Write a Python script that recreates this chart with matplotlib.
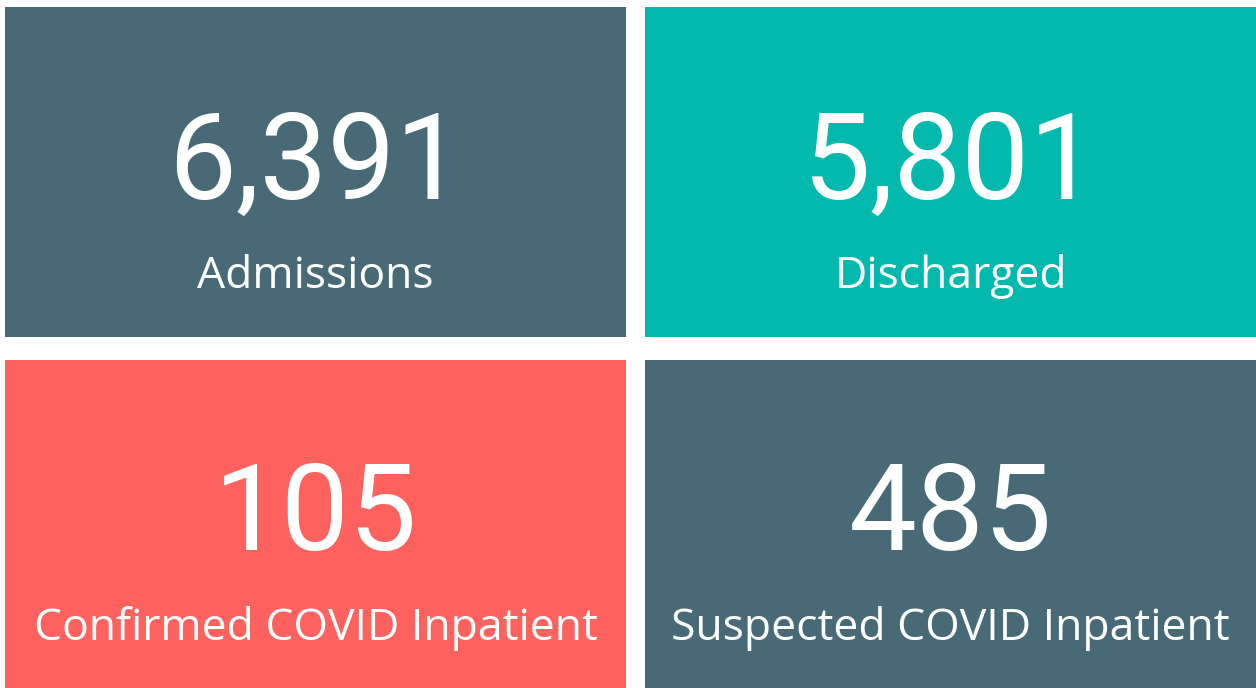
import matplotlib
matplotlib.use("Agg")
from matplotlib import pyplot as plt

# KPI tiles
values = [6391, 5801, 105, 485]
labels = ["Admissions", "Discharged", "Confirmed COVID Inpatient", "Suspected COVID Inpatient"]
colors = ["#486A77", "#03B8AD", "#FD625E", "#486A77"]

W, H = 1256, 688
fig = plt.figure(figsize=(W / 100, H / 100), dpi=100)
fig.patch.set_facecolor("white")

# tile boxes in pixels: (left, right) and (top, bottom)
cols = [(5, 626), (645, 1256)]
rows = [(7, 337), (360, 688)]

for i, (val, lab, col) in enumerate(zip(values, labels, colors)):
    x0, x1 = cols[i % 2]
    y0, y1 = rows[i // 2]
    ax = fig.add_axes([x0 / W, 1 - y1 / H, (x1 - x0) / W, (y1 - y0) / H])
    ax.set_facecolor(col)
    ax.set_xticks([])
    ax.set_yticks([])
    for s in ax.spines.values():
        s.set_visible(False)
    ax.text(0.5, 0.42, f"{val:,}", transform=ax.transAxes, ha="center", va="baseline",
            color="white", fontsize=87, family="Roboto")
    ax.text(0.5, 0.147, lab, transform=ax.transAxes, ha="center", va="baseline",
            color="white", fontsize=32, family="Open Sans")

fig.savefig("out.png", dpi=100)
